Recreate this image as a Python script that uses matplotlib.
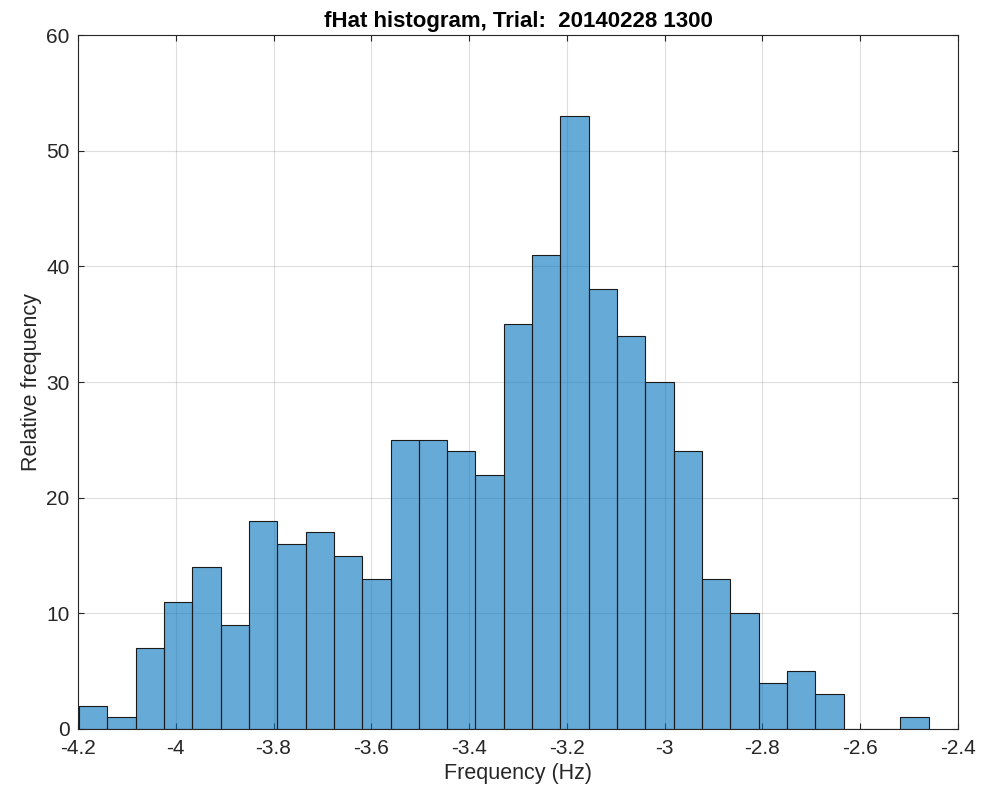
import numpy as np
import matplotlib
matplotlib.use('Agg')
import matplotlib.pyplot as plt

# histogram of fHat, counts per bin
bin_lo = -4.198
bin_hi = -2.460
counts = [2, 1, 7, 11, 14, 9, 18, 16, 17, 15, 13, 25, 25, 24, 22,
          35, 41, 53, 38, 34, 30, 24, 13, 10, 4, 5, 3, 0, 0, 1]
xticks = [-4.2, -4, -3.8, -3.6, -3.4, -3.2, -3, -2.8, -2.6, -2.4]
xticklabels = ['-4.2', '-4', '-3.8', '-3.6', '-3.4', '-3.2', '-3', '-2.8', '-2.6', '-2.4']
yticks = [0, 10, 20, 30, 40, 50, 60]

plt.rcParams['font.family'] = ['Liberation Sans', 'DejaVu Sans']
dark = (0.15, 0.15, 0.15)

edges = np.linspace(bin_lo, bin_hi, len(counts) + 1)

fig = plt.figure(figsize=(9.87, 7.87), dpi=100)
ax = fig.add_axes([0.079, 0.0737, 0.8916, 0.8818])
ax.set_axisbelow(True)
ax.grid(True, color=(0.15, 0.15, 0.15), alpha=0.15, linewidth=0.8)
ax.bar(edges[:-1], counts, width=np.diff(edges), align='edge',
       facecolor='#0072BD', alpha=0.6, edgecolor='none')
ax.bar(edges[:-1], counts, width=np.diff(edges), align='edge',
       facecolor='none', edgecolor='#1a1a1a', linewidth=0.8)

ax.set_xlim(-4.2, -2.4)
ax.set_ylim(0, 60)
ax.set_xticks(xticks)
ax.set_xticklabels(xticklabels)
ax.set_yticks(yticks)
ax.tick_params(direction='in', top=True, right=True, length=4, width=0.8,
               colors=dark, labelsize=15)
ax.tick_params(axis='x', pad=7)
ax.tick_params(axis='y', pad=6)
for s in ax.spines.values():
    s.set_color(dark)
    s.set_linewidth(0.8)

ax.set_xlabel('Frequency (Hz)', fontsize=15.5, color=dark, labelpad=4)
ax.set_ylabel('Relative frequency', fontsize=15.5, color=dark, labelpad=3)
ax.set_title('fHat histogram, Trial:  20140228 1300', fontsize=16,
             fontweight='bold', color='black', pad=6)

fig.savefig('out.png', dpi=100)
